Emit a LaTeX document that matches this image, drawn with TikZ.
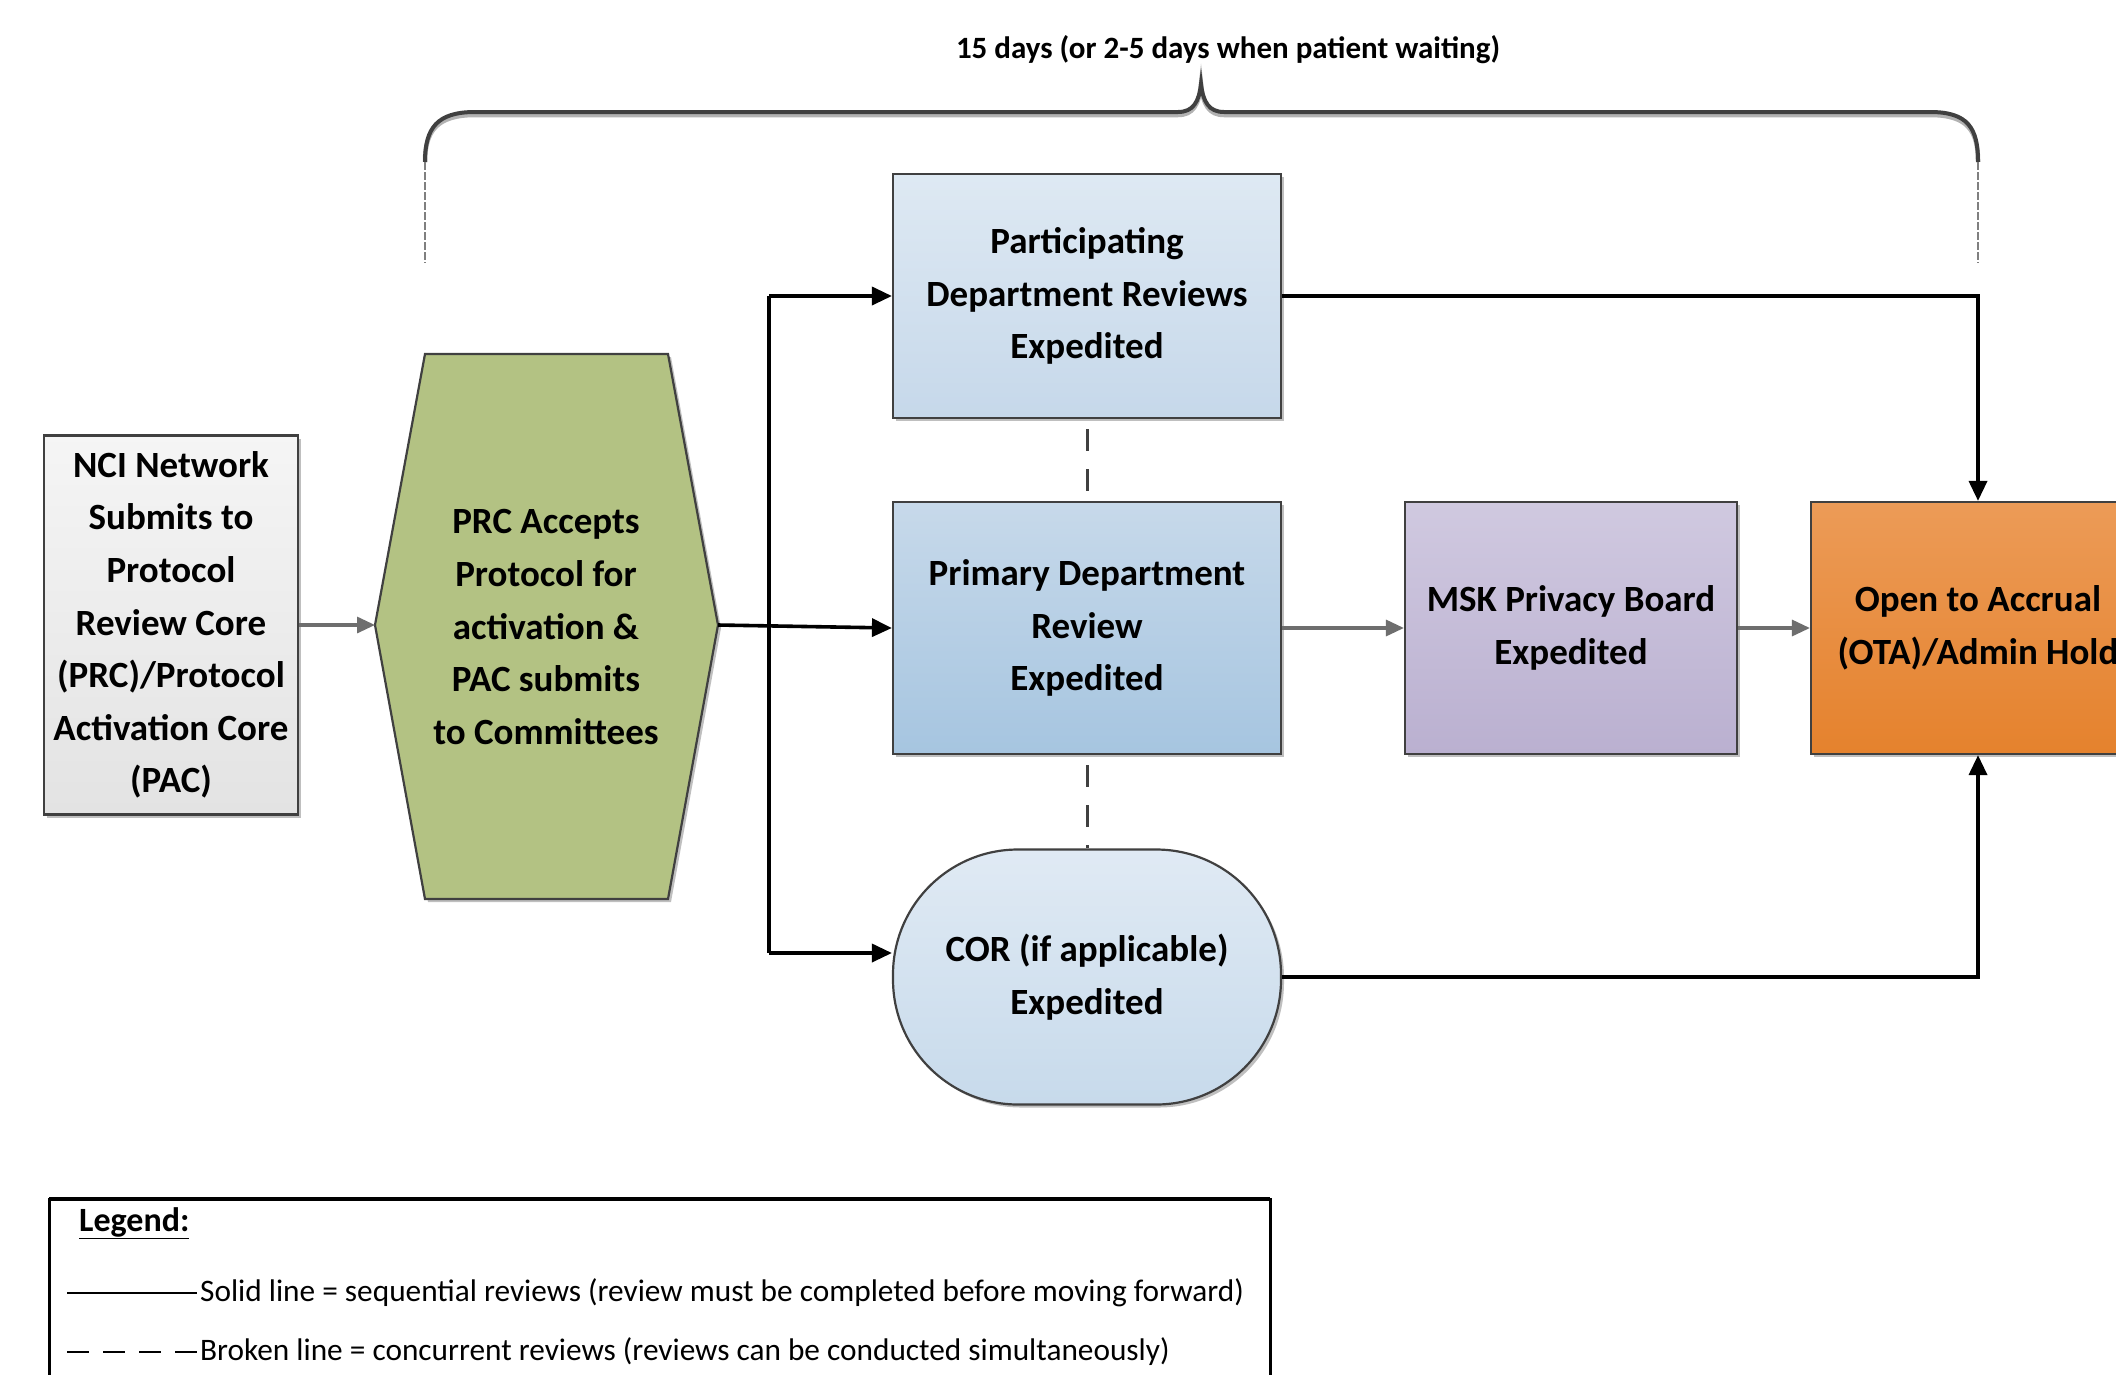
\documentclass[tikz,border=0pt]{standalone}
\usepackage{fontspec}
\setmainfont{Carlito}
\usetikzlibrary{arrows.meta,shadows,calc}
\definecolor{edgegray}{HTML}{404040}
\definecolor{arrgray}{HTML}{6E6E6E}
\tikzset{
  every node/.style={font=\bfseries\fontsize{37}{52.6}\selectfont, align=center, inner sep=0pt},
  boxbase/.style={draw=edgegray, line width=2.2pt, minimum width=388pt, minimum height=252pt,
    drop shadow={shadow xshift=3pt, shadow yshift=-3pt, fill=black, opacity=0.25}},
  tipblack/.style={-{Triangle[length=20pt,width=18pt]}},
  blackline/.style={draw=black, line width=3.6pt},
  grayline/.style={draw=arrgray, line width=3.2pt, -{Triangle[length=18pt,width=16pt]}},
  concur/.style={draw=edgegray, line width=3pt, dash pattern=on 22pt off 18pt, dash phase=-10pt},
}
\begin{document}
\begin{tikzpicture}[x=1pt,y=-1pt]
\useasboundingbox (0,0) rectangle (2116,1374);
\clip (0,0) rectangle (2116,1374);
\fill[white] (0,0) rectangle (2116,1374);

% brace
\coordinate (bl) at (425,162);
\coordinate (br) at (1978,162);
\coordinate (tip) at (1201,84);
\draw[line width=4.5pt, draw=black!30, yshift=-3pt]
  (bl) .. controls (425,128) and (437,112) .. (475,112) -- (1178,112)
  .. controls (1193,112) and (1199,102) .. (tip)
  .. controls (1203,102) and (1209,112) .. (1224,112) -- (1930,112)
  .. controls (1968,112) and (1978,128) .. (br);
\draw[line width=4pt, draw=edgegray]
  (bl) .. controls (425,128) and (437,112) .. (475,112) -- (1178,112)
  .. controls (1193,112) and (1199,102) .. (tip)
  .. controls (1203,102) and (1209,112) .. (1224,112) -- (1930,112)
  .. controls (1968,112) and (1978,128) .. (br);
\coordinate (bl2) at (425,263);
\coordinate (br2) at (1978,263);
\draw[draw=gray, line width=1.2pt, dash pattern=on 8pt off 2pt] (bl) -- (bl2);
\draw[draw=gray, line width=1.2pt, dash pattern=on 8pt off 2pt] (br) -- (br2);
\node[font=\bfseries\fontsize{31}{36}\selectfont] (brlabel) at (1228,50) {15 days (or 2-5 days when patient waiting)};

% nodes
\node[boxbase, minimum width=254pt, minimum height=379pt, top color=gray!8, bottom color=gray!22] (nci) at (171,625)
  {NCI Network\\Submits to\\Protocol\\Review Core\\(PRC)/Protocol\\Activation Core\\(PAC)};

\coordinate (hexL) at (375,625);
\coordinate (hexR) at (718,625);
\fill[black, opacity=0.25] ($(425,354)+(3,3)$) -- ($(668,354)+(3,3)$) -- ($(hexR)+(3,3)$) -- ($(668,899)+(3,3)$) -- ($(425,899)+(3,3)$) -- ($(hexL)+(3,3)$) -- cycle;
\draw[draw=edgegray, line width=2.2pt, fill={rgb,255:red,179;green,194;blue,131}]
  (425,354) -- (668,354) -- (hexR) -- (668,899) -- (425,899) -- (hexL) -- cycle;
\node (hex) at (546,627) {PRC Accepts\\Protocol for\\activation \&\\PAC submits\\to Committees};

\node[boxbase, minimum height=244pt, top color={rgb,255:red,222;green,233;blue,243}, bottom color={rgb,255:red,198;green,216;blue,234}] (part) at (1087,296)
  {Participating\\Department Reviews\\Expedited};
\node[boxbase, top color={rgb,255:red,199;green,217;blue,234}, bottom color={rgb,255:red,166;green,197;blue,224}] (prim) at (1087,628)
  {Primary Department\\Review\\Expedited};
\node[boxbase, minimum height=255pt, rounded corners=125pt, top color={rgb,255:red,224;green,234;blue,244}, bottom color={rgb,255:red,199;green,218;blue,235}] (cor) at (1087,977)
  {COR (if applicable)\\Expedited};
\node[boxbase, minimum width=332pt, top color={rgb,255:red,208;green,201;blue,224}, bottom color={rgb,255:red,186;green,176;blue,208}] (msk) at (1571,628)
  {MSK Privacy Board\\Expedited};
\node[boxbase, minimum width=334pt, top color={rgb,255:red,236;green,155;blue,87}, bottom color={rgb,255:red,229;green,130;blue,45}] (ota) at (1978,628)
  {Open to Accrual\\(OTA)/Admin Hold};

% connectors
\draw[grayline] (nci.east) -- (hexL);
\draw[blackline, tipblack] (hexR) -- (prim.west);
\coordinate (jtop) at (769,296);
\coordinate (jbot) at (769,953);
\draw[blackline] (jtop) -- (jbot);
\draw[blackline, tipblack] (jtop) -- (part.west);
\draw[blackline, tipblack] (jbot) -- ([yshift=24pt]cor.west);
\draw[blackline, tipblack] (part.east) -| (ota.north);
\draw[blackline, tipblack] (cor.east) -| (ota.south);
\draw[grayline] (prim.east) -- (msk.west);
\draw[grayline] (msk.east) -- (ota.west);
\draw[concur] (part.south) -- (prim.north);
\draw[concur] (prim.south) -- (cor.north);

% legend
\draw[draw=black, line width=3pt, fill=white] (49,1199) rectangle (1270,1420);
\draw[draw=black, line width=4pt] (49,1199) -- (1270,1199);
\node[anchor=west, font=\bfseries\fontsize{34}{40}\selectfont] (leghead) at (79,1223) {\underline{Legend:}};
\coordinate (s1) at (67,1293);
\coordinate (s2) at (197,1293);
\coordinate (d1) at (67,1352);
\coordinate (d2) at (197,1352);
\draw[draw=black, line width=2pt] (s1) -- (s2);
\draw[draw=black, line width=2pt, dash pattern=on 22pt off 14pt] (d1) -- (d2);
\node[anchor=west, font=\fontsize{31.3}{36}\selectfont] (legsolid) at (200,1293) {Solid line = sequential reviews (review must be completed before moving forward)};
\node[anchor=west, font=\fontsize{31.3}{36}\selectfont] (legdash) at (200,1352) {Broken line = concurrent reviews (reviews can be conducted simultaneously)};
\end{tikzpicture}
\end{document}
